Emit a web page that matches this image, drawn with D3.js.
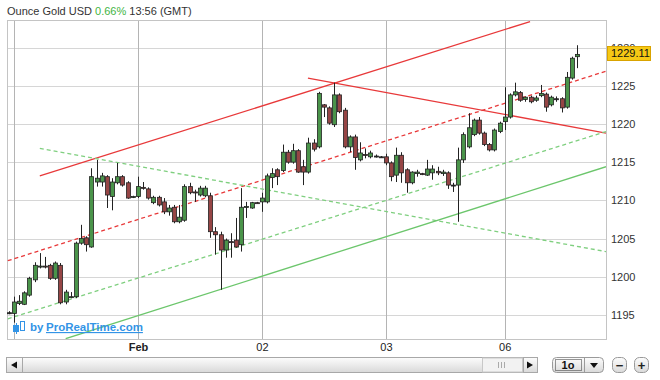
<!DOCTYPE html>
<html>
<head>
<meta charset="utf-8">
<script src="https://cdn.jsdelivr.net/npm/d3@7"></script>
<style>
  body { margin: 0; background: #fff; }
  svg { display: block; font-family: Arial, "Liberation Sans", sans-serif; }
</style>
</head>
<body>
<div id="chart"></div>
<script>
// hourly candles, index 0 = Jan 30 23:00 GMT
var opens = [1195.3,1195.2,1196.5,1196.4,1197.6,1199.6,1201.3,1201.4,1201.5,1199.8,
  1201.5,1196.7,1197.3,1197.4,1204.4,1205.1,1203.9,1212.4,1212.4,1213.1,
  1210.5,1212.3,1213.1,1212.3,1210.4,1210.5,1211.7,1211.5,1209.7,1210.4,
  1209.8,1208.5,1209.1,1207.2,1207.4,1211.8,1211.1,1210.7,1210.6,1210.6,
  1205.9,1205.5,1203.5,1204.6,1204.8,1204.2,1209.1,1209.0,1209.7,1209.8,
  1209.8,1213.0,1214.0,1213.9,1216.3,1215.0,1216.5,1214.4,1213.7,1217.5,
  1217.0,1222.5,1222.1,1219.9,1223.8,1221.8,1217.0,1218.3,1215.3,1216.0,
  1215.7,1215.8,1215.7,1215.7,1214.9,1213.3,1215.9,1214.0,1212.3,1213.5,
  1213.5,1213.3,1213.6,1213.8,1213.5,1213.6,1212.0,1212.0,1215.3,1217.0,
  1218.6,1220.5,1218.8,1217.3,1216.6,1219.0,1220.3,1220.9,1223.8,1224.1,
  1223.2,1223.5,1223.1,1223.7,1223.9,1222.5,1223.3,1223.3,1222.2,1226.0,
  1228.8];
var highs = [1195.5,1197.4,1197.6,1198.1,1200.0,1201.9,1203.1,1202.6,1201.7,1202.0,
  1201.8,1198.3,1198.0,1204.6,1206.8,1205.3,1214.2,1215.3,1213.6,1213.3,
  1212.9,1214.9,1213.3,1212.5,1210.6,1213.1,1212.4,1211.7,1210.6,1210.6,
  1210.3,1209.4,1209.4,1209.4,1212.1,1212.3,1211.4,1211.9,1211.9,1211.0,
  1206.5,1205.9,1205.0,1205.7,1207.7,1211.6,1209.8,1209.8,1209.8,1211.0,
  1213.5,1214.2,1214.2,1217.3,1216.6,1217.4,1216.7,1215.3,1218.2,1218.0,
  1224.2,1222.6,1222.3,1225.4,1224.0,1222.1,1218.5,1218.6,1217.6,1216.8,
  1216.5,1216.0,1215.8,1216.1,1215.1,1216.9,1216.3,1214.2,1213.8,1214.0,
  1213.6,1215.3,1214.6,1214.4,1214.0,1213.8,1212.3,1216.9,1218.9,1221.4,
  1220.7,1220.9,1219.0,1217.5,1219.4,1220.3,1224.8,1224.0,1225.4,1224.3,
  1223.6,1223.7,1223.7,1225.1,1224.1,1223.7,1223.6,1223.5,1226.8,1228.8,
  1230.3];
var lows = [1195.1,1194.0,1196.3,1196.3,1197.4,1199.3,1201.1,1201.1,1199.6,1199.6,
  1196.4,1196.4,1197.2,1197.2,1204.2,1203.3,1203.8,1211.8,1211.8,1209.0,
  1208.7,1212.1,1211.8,1210.2,1210.3,1210.3,1211.4,1210.1,1209.5,1209.2,
  1208.2,1208.0,1207.0,1207.0,1207.2,1210.8,1209.8,1210.5,1210.4,1205.1,
  1202.9,1198.3,1202.5,1202.5,1203.8,1203.3,1207.7,1208.9,1209.6,1208.5,
  1209.6,1211.6,1212.0,1213.7,1214.8,1214.8,1213.6,1212.0,1213.5,1216.4,
  1216.8,1220.9,1219.9,1219.6,1221.4,1216.8,1216.3,1214.0,1215.1,1215.5,
  1215.5,1215.6,1215.6,1214.6,1212.5,1212.4,1212.3,1211.0,1212.1,1213.1,
  1213.3,1213.2,1212.7,1213.3,1213.2,1211.5,1211.1,1207.2,1214.9,1216.8,
  1218.4,1218.6,1217.1,1216.4,1216.4,1218.8,1219.2,1220.7,1223.6,1222.9,
  1222.9,1222.7,1222.9,1223.5,1221.6,1222.3,1222.9,1221.5,1222.0,1225.8,
  1227.3];
var closes = [1195.3,1196.7,1196.8,1197.9,1199.8,1201.5,1201.4,1201.3,1199.8,1201.8,
  1196.6,1198.0,1197.4,1204.4,1205.0,1204.2,1213.1,1212.9,1213.2,1210.7,
  1212.4,1213.1,1212.0,1210.3,1210.5,1211.8,1211.6,1210.3,1210.4,1209.4,
  1208.5,1209.0,1207.2,1207.8,1211.8,1211.0,1211.0,1211.6,1211.6,1205.9,
  1205.5,1203.5,1204.8,1204.5,1203.9,1209.1,1209.2,1209.7,1209.6,1210.3,
  1213.2,1213.5,1213.1,1216.3,1215.0,1216.5,1213.7,1213.7,1217.5,1216.7,
  1224.0,1222.2,1220.1,1223.8,1221.6,1217.0,1218.3,1215.6,1216.2,1215.9,
  1216.2,1215.8,1215.7,1214.9,1213.1,1215.9,1213.6,1212.3,1213.7,1213.7,
  1213.4,1214.1,1214.1,1213.6,1213.7,1212.0,1212.0,1215.3,1218.6,1219.5,
  1220.5,1218.8,1217.3,1216.6,1219.2,1220.1,1220.9,1223.8,1224.2,1223.1,
  1223.5,1222.9,1223.4,1224.0,1222.2,1223.5,1223.3,1222.1,1226.1,1228.6,
  1229.1];

// day separators (candle index) and their labels
var dayTicks = [1, 25, 49, 73, 96];
var dayLabels = ['', 'Feb', '02', '03', '06'];
var priceTicks = [1195, 1200, 1205, 1210, 1215, 1220, 1225, 1230];
var lastPrice = 1229.11;
var changePct = '0.66%';

// drawn trend lines, [candle index, price]
var redChannelTop = [[6.0, 1213.2], [100.9, 1233.4]];
var redChannelMid = [[-0.2, 1202.1], [115.6, 1226.9]];
var redResistance = [[57.9, 1226.0], [115.6, 1218.8]];
var greenDashDown = [[6.0, 1216.8], [115.6, 1203.3]];
var greenDashUp = [[-0.2, 1194.5], [115.6, 1219.0]];
var greenSolidUp = [[11.0, 1191.9], [115.6, 1214.4]];

var W = 660, H = 380;
var plot = {left: 7, right: 606, top: 20, bottom: 339};

var svg = d3.select('#chart').append('svg')
  .attr('width', W).attr('height', H);

var x = d3.scaleLinear().domain([-0.35, 115.6]).range([plot.left, plot.right]);
var y = d3.scaleLinear().domain([1191.86, 1233.6]).range([plot.bottom, plot.top]);

svg.append('defs').append('clipPath').attr('id', 'plotclip')
  .append('rect')
  .attr('x', plot.left).attr('y', plot.top)
  .attr('width', plot.right - plot.left).attr('height', plot.bottom - plot.top);

// title
var title = svg.append('text').attr('x', 7).attr('y', 15)
  .style('font-size', '11px').style('fill', '#333');
title.append('tspan').text('Ounce Gold USD ');
title.append('tspan').style('fill', '#3fb53f').text(changePct);
title.append('tspan').text(' 13:56 (GMT)');

// grid
svg.append('g').selectAll('line').data(priceTicks).enter().append('line')
  .attr('x1', plot.left).attr('x2', plot.right)
  .attr('y1', function (d) { return Math.round(y(d)) + 0.5; })
  .attr('y2', function (d) { return Math.round(y(d)) + 0.5; })
  .style('stroke', '#d6d6d6');

svg.append('g').selectAll('line').data(dayTicks).enter().append('line')
  .attr('x1', function (d) { return Math.round(x(d)) + 0.5; })
  .attr('x2', function (d) { return Math.round(x(d)) + 0.5; })
  .attr('y1', plot.top).attr('y2', plot.bottom)
  .style('stroke', '#b4b4b4');

svg.append('rect')
  .attr('x', plot.left + 0.5).attr('y', plot.top + 0.5)
  .attr('width', plot.right - plot.left).attr('height', plot.bottom - plot.top)
  .style('fill', 'none').style('stroke', '#c4c4c4');

// trend lines
var g = svg.append('g').attr('clip-path', 'url(#plotclip)');
var line = d3.line()
  .x(function (d) { return x(d[0]); })
  .y(function (d) { return y(d[1]); });

var trends = [
  {pts: redChannelTop, color: '#e8393a', dash: null},
  {pts: redChannelMid, color: '#e8393a', dash: '4,3'},
  {pts: redResistance, color: '#e8393a', dash: null},
  {pts: greenDashDown, color: '#7fcf7f', dash: '4,3'},
  {pts: greenDashUp, color: '#7fcf7f', dash: '4,3'},
  {pts: greenSolidUp, color: '#6cc66c', dash: null}
];
g.selectAll('path.trend').data(trends).enter().append('path')
  .attr('class', 'trend')
  .attr('d', function (d) { return line(d.pts); })
  .style('fill', 'none')
  .style('stroke', function (d) { return d.color; })
  .style('stroke-width', 1.3)
  .style('stroke-dasharray', function (d) { return d.dash; });

// candles
var candles = d3.range(opens.length).map(function (i) {
  return {i: i, o: opens[i], h: highs[i], l: lows[i], c: closes[i]};
});

var cg = g.selectAll('g.candle').data(candles).enter().append('g')
  .attr('class', 'candle');

cg.append('line')
  .attr('x1', function (d) { return Math.round(x(d.i)) + 0.5; })
  .attr('x2', function (d) { return Math.round(x(d.i)) + 0.5; })
  .attr('y1', function (d) { return y(d.h); })
  .attr('y2', function (d) { return y(d.l); })
  .style('stroke', '#222');

cg.append('rect')
  .attr('x', function (d) { return Math.round(x(d.i)) - 1.5; })
  .attr('width', 4)
  .attr('y', function (d) { return y(Math.max(d.o, d.c)); })
  .attr('height', function (d) {
    return Math.max(1, Math.abs(y(d.o) - y(d.c)));
  })
  .style('fill', function (d) {
    if (d.c > d.o) return '#4a944a';
    if (d.c < d.o) return '#964545';
    return '#222';
  })
  .style('stroke', '#222')
  .style('stroke-width', 0.8);

// price axis
var yAxis = svg.append('g')
  .attr('transform', 'translate(' + plot.right + ',0)')
  .call(d3.axisRight(y).tickValues(priceTicks).tickSize(0).tickPadding(5)
    .tickFormat(d3.format('d')));
yAxis.select('.domain').remove();
yAxis.selectAll('text')
  .style('font-size', '11px').style('fill', '#333')
  .style('font-family', 'Arial, "Liberation Sans", sans-serif');

// day axis
var xAxis = svg.append('g')
  .attr('transform', 'translate(0,' + plot.bottom + ')')
  .call(d3.axisBottom(x).tickValues(dayTicks).tickSize(0).tickPadding(4)
    .tickFormat(function (d, i) { return dayLabels[i]; }));
xAxis.select('.domain').remove();
xAxis.selectAll('text')
  .style('font-size', '11px').style('fill', '#222')
  .style('font-family', 'Arial, "Liberation Sans", sans-serif')
  .style('font-weight', function (d, i) { return dayLabels[i] === 'Feb' ? 'bold' : 'normal'; });

// last price tag, drawn over the top tick label as in the original
var tagY = y(lastPrice);
svg.append('rect')
  .attr('x', 607.5).attr('y', Math.round(tagY) - 7.5)
  .attr('width', 43).attr('height', 14)
  .style('fill', '#f6c915').style('stroke', '#d9a300');
svg.append('text')
  .attr('x', 611).attr('y', Math.round(tagY) - 0.5).attr('dy', '0.35em')
  .style('font-size', '11px').style('fill', '#111')
  .text(lastPrice.toFixed(2));

// watermark
var wm = svg.append('g');
wm.append('rect').attr('x', 13.5).attr('y', 325.5).attr('width', 5).attr('height', 6)
  .style('fill', '#3394e6').style('stroke', '#3394e6');
wm.append('line').attr('x1', 16.5).attr('x2', 16.5).attr('y1', 323).attr('y2', 334)
  .style('stroke', '#3394e6');
wm.append('rect').attr('x', 20.5).attr('y', 321.5).attr('width', 4).attr('height', 9)
  .style('fill', '#fff').style('stroke', '#3394e6');
wm.append('text').attr('x', 30).attr('y', 331)
  .style('font-size', '11.5px').style('font-weight', 'bold').style('fill', '#3394e6')
  .text('by');
wm.append('text').attr('x', 46).attr('y', 331)
  .style('font-size', '11.5px').style('font-weight', 'bold').style('fill', '#3394e6')
  .style('text-decoration', 'underline')
  .text('ProRealTime.com');

// scroll bar and zoom controls
var defs = svg.select('defs');
var grad = defs.append('linearGradient').attr('id', 'btn')
  .attr('x1', 0).attr('y1', 0).attr('x2', 0).attr('y2', 1);
grad.append('stop').attr('offset', '0%').attr('stop-color', '#fdfdfd');
grad.append('stop').attr('offset', '100%').attr('stop-color', '#d9d9d9');

var sb = svg.append('g');
sb.append('rect').attr('x', 6.5).attr('y', 357.5).attr('width', 531).attr('height', 15)
  .style('fill', 'url(#btn)').style('stroke', '#a8a8a8');
sb.append('rect').attr('x', 482.5).attr('y', 358).attr('width', 40).attr('height', 14)
  .style('fill', '#f2f2f2').style('stroke', '#c8c8c8');
[498, 501, 504].forEach(function (gx) {
  sb.append('line').attr('x1', gx + 0.5).attr('x2', gx + 0.5).attr('y1', 362).attr('y2', 368)
    .style('stroke', '#aaa');
});
sb.append('line').attr('x1', 22.5).attr('x2', 22.5).attr('y1', 358).attr('y2', 372).style('stroke', '#a8a8a8');
sb.append('line').attr('x1', 523.5).attr('x2', 523.5).attr('y1', 358).attr('y2', 372).style('stroke', '#a8a8a8');
sb.append('path').attr('d', 'M11,365 L17,361.5 L17,368.5 Z').style('fill', '#111');
sb.append('path').attr('d', 'M533,365 L527,361.5 L527,368.5 Z').style('fill', '#111');

sb.append('rect').attr('x', 552.5).attr('y', 357.5).attr('width', 51).attr('height', 15).attr('rx', 4)
  .style('fill', 'url(#btn)').style('stroke', '#9a9a9a');
sb.append('rect').attr('x', 555.5).attr('y', 359.5).attr('width', 26).attr('height', 11)
  .style('fill', 'none').style('stroke', '#333').style('stroke-dasharray', '1,1');
sb.append('line').attr('x1', 584.5).attr('x2', 584.5).attr('y1', 358).attr('y2', 372).style('stroke', '#9a9a9a');
sb.append('text').attr('x', 568).attr('y', 369).attr('text-anchor', 'middle')
  .style('font-size', '11px').style('font-weight', 'bold').style('fill', '#111').text('1o');
sb.append('path').attr('d', 'M590,363 L598,363 L594,368 Z').style('fill', '#111');

[[612.5, '\u2212'], [634.5, '+']].forEach(function (b) {
  sb.append('rect').attr('x', b[0]).attr('y', 357.5).attr('width', 14).attr('height', 15).attr('rx', 5)
    .style('fill', 'url(#btn)').style('stroke', '#9a9a9a');
  sb.append('text').attr('x', b[0] + 7).attr('y', 369.5).attr('text-anchor', 'middle')
    .style('font-size', '13px').style('font-weight', 'bold').style('fill', '#222').text(b[1]);
});
</script>
</body>
</html>
